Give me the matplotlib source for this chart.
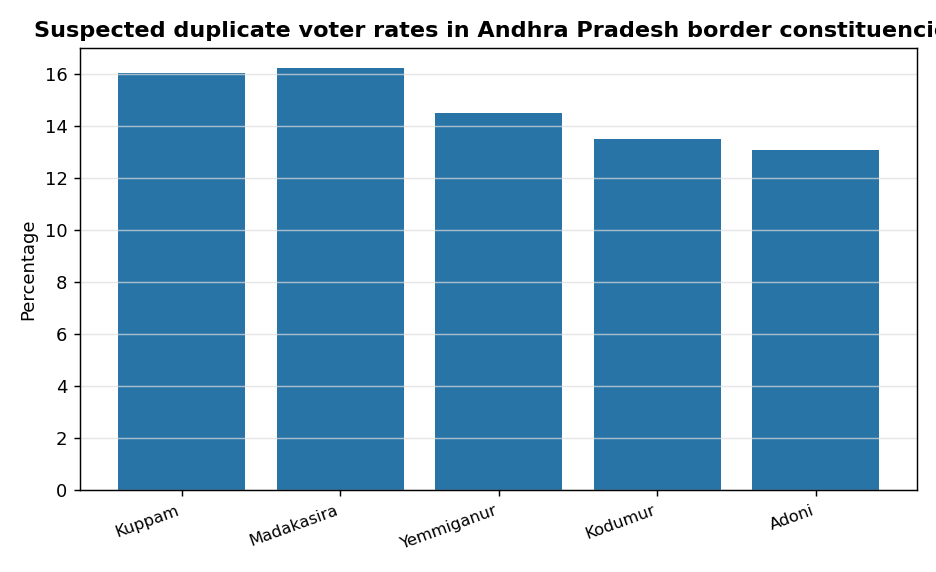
import matplotlib
matplotlib.use("Agg")
import matplotlib.pyplot as plt

constituencies = ["Kuppam", "Madakasira", "Yemmiganur", "Kodumur", "Adoni"]
dup_rates = [16.05, 16.25, 14.5, 13.5, 13.08]

fig, ax = plt.subplots(figsize=(7.2, 4.4), dpi=130)
fig.subplots_adjust(left=0.0855, right=0.98, top=0.916, bottom=0.143)

ax.bar(constituencies, dup_rates, color="#2874a6", width=0.8)
ax.set_ylim(0, 17)
ax.set_ylabel("Percentage")
ax.set_title("Suspected duplicate voter rates in Andhra Pradesh border constituencies",
             fontsize=12.4, fontweight="bold")
ax.grid(axis="y", color="#dddddd", alpha=0.7, linewidth=0.8)
plt.setp(ax.get_xticklabels(), rotation=20, ha="right", fontsize=9)

fig.savefig("out.png", dpi=130)
